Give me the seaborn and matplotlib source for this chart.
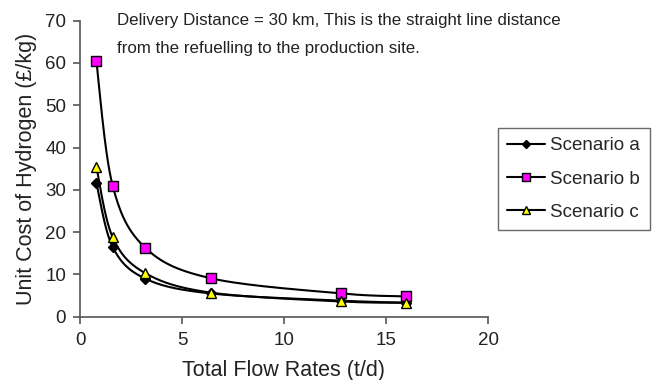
import numpy as np
import pandas as pd
import matplotlib
matplotlib.use("Agg")
import matplotlib.pyplot as plt
import seaborn as sns
from matplotlib.lines import Line2D

flow = [0.8, 1.6, 3.2, 6.4, 12.8, 16.0]
scenario_a = [31.7, 16.5, 9.0, 5.5, 3.8, 3.3]
scenario_b = [60.5, 31.0, 16.3, 9.1, 5.5, 4.8]
scenario_c = [35.5, 18.8, 10.3, 5.7, 3.6, 3.3]
names = ["Scenario a", "Scenario b", "Scenario c"]
x_ticks = [0, 5, 10, 15, 20]
y_ticks = [0, 10, 20, 30, 40, 50, 60, 70]

sns.set_theme(style="ticks")
plt.rcParams['font.family'] = ['Liberation Sans', 'DejaVu Sans']

fig = plt.figure(figsize=(6.53, 3.80), dpi=100)
ax = fig.add_axes([80/653, 1-316.7/380, (488-80)/653, (316.7-20.7)/380])


def smooth(xs, ys, n=30):
    # Catmull-Rom style smoothing (like Excel smoothed lines)
    xs = np.asarray(xs, float); ys = np.asarray(ys, float)
    P = np.column_stack([xs, ys])
    out = []
    for i in range(len(P) - 1):
        p0 = P[i - 1] if i > 0 else P[i]
        p1 = P[i]; p2 = P[i + 1]
        p3 = P[i + 2] if i + 2 < len(P) else P[i + 1]
        c1 = p1 + (p2 - p0) / 6.0
        c2 = p2 - (p3 - p1) / 6.0
        t = np.linspace(0, 1, n)[:, None]
        seg = (1-t)**3*p1 + 3*(1-t)**2*t*c1 + 3*(1-t)*t**2*c2 + t**3*p2
        out.append(seg if i == 0 else seg[1:])
    S = np.vstack(out)
    return S[:, 0], S[:, 1]


series = [scenario_a, scenario_b, scenario_c]
styles = [dict(marker="D", mfc="black", ms=5),
          dict(marker="s", mfc="#ff00ff", ms=6.5),
          dict(marker="^", mfc="#ffff00", ms=6.5)]

handles = []
for name, vals, st in zip(names, series, styles):
    sx, sy = smooth(flow, vals)
    sns.lineplot(x=sx, y=sy, ax=ax, color="black", lw=1.5, sort=False, estimator=None)
    df = pd.DataFrame({"x": flow, "y": vals})
    ax.plot(df["x"], df["y"], ls="none", marker=st["marker"], ms=st["ms"],
            mfc=st["mfc"], mec="black", mew=1.0, zorder=5)
    handles.append(Line2D([0], [0], color="black", lw=1.5, marker=st["marker"],
                          ms=st["ms"] - 0.5, mfc=st["mfc"], mec="black", mew=1.0))

ax.set_xlim(0, 20)
ax.set_ylim(0, 70)
ax.set_xticks(x_ticks)
ax.set_yticks(y_ticks)
for s in ["top", "right"]:
    ax.spines[s].set_visible(False)
for s in ["left", "bottom"]:
    ax.spines[s].set_color("#555555")
    ax.spines[s].set_linewidth(1.2)
ax.tick_params(direction="out", length=5, width=1.2, color="#555555",
               labelsize=13.5, labelcolor="#222222", pad=6)
ax.tick_params(axis="y", pad=5)
ax.set_xlabel("Total Flow Rates (t/d)", fontsize=15.5, color="#222222", labelpad=8)
ax.set_ylabel("Unit Cost of Hydrogen (£/kg)", fontsize=15.5, color="#222222", labelpad=6)

fig.text(117/653, 1-21/380, "Delivery Distance = 30 km, This is the straight line distance",
         fontsize=12.2, color="#222222", va="center", ha="left")
fig.text(117/653, 1-49/380, "from the refuelling to the production site.",
         fontsize=12.2, color="#222222", va="center", ha="left")

leg = fig.legend(handles, names, loc="upper left",
                 bbox_to_anchor=(498/653, 1-128/380), frameon=True, fancybox=False,
                 edgecolor="#444444", fontsize=13.5, handlelength=2.0,
                 handletextpad=0.3, labelspacing=0.85, borderpad=0.5,
                 borderaxespad=0)
leg.get_frame().set_linewidth(1.0)

fig.savefig("out.png", dpi=100, facecolor="white")
